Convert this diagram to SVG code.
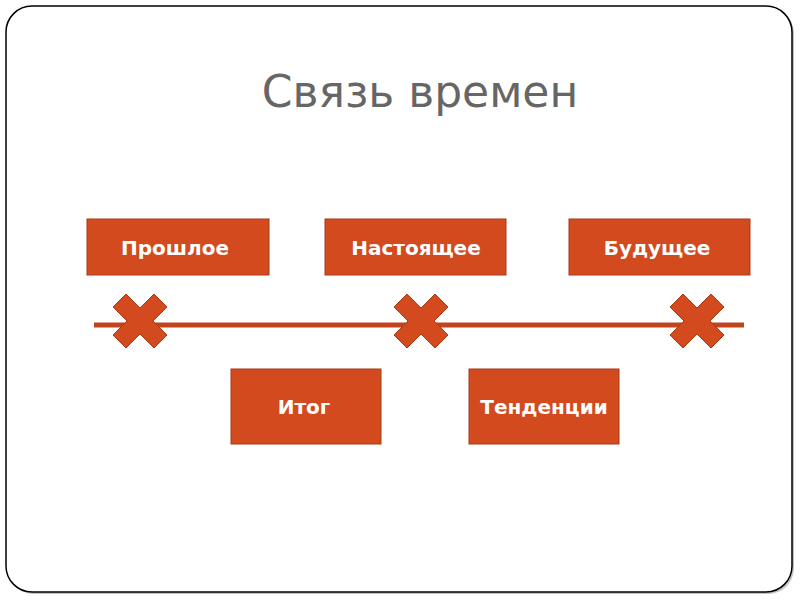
<svg xmlns="http://www.w3.org/2000/svg" width="800" height="600" viewBox="0 0 800 600">
<style>
.box{fill:#D24A1E;stroke:#A83A16;stroke-width:1}
.lbl{font-family:"DejaVu Sans",Verdana,sans-serif;font-weight:bold;font-size:20px;fill:#FFFFFF;text-anchor:middle}
.cross{fill:#D24A1E;stroke:#A83A16;stroke-width:1}
</style>
<defs>
<polygon id="x" points="-14,-27 0,-13 14,-27 27,-14 13,0 27,14 14,27 0,13 -14,27 -27,14 -13,0 -27,-14"/>
</defs>
<rect x="0" y="0" width="800" height="600" fill="#FFFFFF"/>
<rect x="8" y="8" width="786" height="586" rx="26" fill="#888" opacity="0.5"/>
<rect x="6" y="6" width="786" height="586" rx="26" fill="#FFFFFF" stroke="#000" stroke-width="1.5"/>
<text x="420" y="107" font-family="'DejaVu Sans',Verdana,sans-serif" font-size="44" fill="#666666" text-anchor="middle">Связь времен</text>
<g id="connectors">
<line x1="94" y1="325" x2="744" y2="325" stroke="#C0441C" stroke-width="5"/>
</g>
<g id="cross1"><use href="#x" class="cross" transform="translate(140,321)"/></g>
<g id="cross2"><use href="#x" class="cross" transform="translate(421,321)"/></g>
<g id="cross3"><use href="#x" class="cross" transform="translate(697,321)"/></g>
<g id="past"><rect class="box" x="87" y="219" width="182" height="56"/><text class="lbl" x="175" y="255">Прошлое</text></g>
<g id="present"><rect class="box" x="325" y="219" width="181" height="56"/><text class="lbl" x="416" y="255">Настоящее</text></g>
<g id="future"><rect class="box" x="569" y="219" width="181" height="56"/><text class="lbl" x="657" y="255">Будущее</text></g>
<g id="result"><rect class="box" x="231" y="369" width="150" height="75"/><text class="lbl" x="304" y="414">Итог</text></g>
<g id="trends"><rect class="box" x="469" y="369" width="150" height="75"/><text class="lbl" x="544" y="414">Тенденции</text></g>
</svg>
